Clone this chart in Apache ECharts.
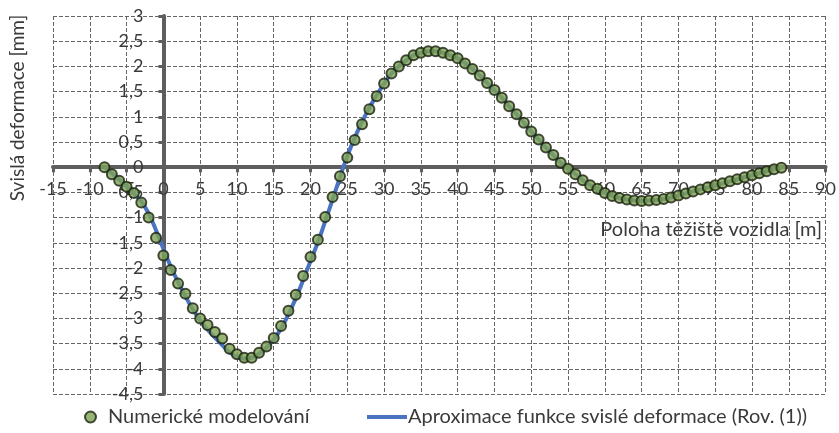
<!DOCTYPE html>
<html>
<head>
<meta charset="utf-8">
<script src="https://cdn.jsdelivr.net/npm/echarts@6/dist/echarts.min.js"></script>
<style>
  html, body { margin: 0; padding: 0; background: #ffffff; }
  #chart { width: 839px; height: 433px; }
</style>
</head>
<body>
<div id="chart"></div>
<script>
// Position of the vehicle's centre of gravity [m]
const positions = [-8, -7, -6, -5, -4, -3, -2, -1,
  0, 1, 2, 3, 4, 5, 6, 7, 8, 9,
  10, 11, 12, 13, 14, 15, 16, 17, 18, 19,
  20, 21, 22, 23, 24, 25, 26, 27, 28, 29,
  30, 31, 32, 33, 34, 35, 36, 37, 38, 39,
  40, 41, 42, 43, 44, 45, 46, 47, 48, 49,
  50, 51, 52, 53, 54, 55, 56, 57, 58, 59,
  60, 61, 62, 63, 64, 65, 66, 67, 68, 69,
  70, 71, 72, 73, 74, 75, 76, 77, 78, 79,
  80, 81, 82, 83, 84];

// Vertical deflection from the numerical model [mm]
const numericalValues = [0.00, -0.14, -0.27, -0.39, -0.51, -0.70, -1.00, -1.40,
  -1.75, -2.04, -2.31, -2.51, -2.80, -3.00, -3.13, -3.27, -3.40, -3.60,
  -3.71, -3.78, -3.78, -3.68, -3.56, -3.39, -3.15, -2.85, -2.53, -2.16,
  -1.78, -1.44, -0.99, -0.59, -0.18, 0.19, 0.54, 0.85, 1.15, 1.41,
  1.66, 1.86, 2.00, 2.12, 2.22, 2.27, 2.30, 2.30, 2.27, 2.22,
  2.16, 2.06, 1.95, 1.82, 1.67, 1.53, 1.38, 1.21, 1.05, 0.88,
  0.71, 0.55, 0.39, 0.24, 0.09, -0.03, -0.14, -0.26, -0.36, -0.43,
  -0.51, -0.57, -0.61, -0.64, -0.66, -0.67, -0.66, -0.65, -0.63, -0.60,
  -0.56, -0.52, -0.48, -0.44, -0.40, -0.36, -0.32, -0.28, -0.24, -0.20,
  -0.16, -0.12, -0.08, -0.04, -0.01];

// Approximating deflection function, Eq. (1) [mm]
const approxValues = [0.00, -0.12, -0.25, -0.38, -0.52, -0.68, -0.92, -1.25,
  -1.62, -1.97, -2.28, -2.56, -2.82, -3.04, -3.22, -3.38, -3.53, -3.67,
  -3.76, -3.80, -3.78, -3.70, -3.58, -3.42, -3.20, -2.92, -2.60, -2.24,
  -1.86, -1.49, -1.07, -0.64, -0.20, 0.22, 0.58, 0.90, 1.18, 1.43,
  1.66, 1.86, 2.00, 2.12, 2.22, 2.27, 2.30, 2.30, 2.27, 2.22,
  2.16, 2.06, 1.95, 1.82, 1.67, 1.53, 1.38, 1.21, 1.05, 0.88,
  0.71, 0.55, 0.39, 0.24, 0.09, -0.03, -0.14, -0.26, -0.36, -0.43,
  -0.51, -0.57, -0.61, -0.64, -0.66, -0.67, -0.66, -0.65, -0.63, -0.60,
  -0.56, -0.52, -0.48, -0.44, -0.40, -0.36, -0.32, -0.28, -0.24, -0.20,
  -0.16, -0.12, -0.08, -0.04, -0.01];

const seriesNames = ['Numerické modelování', 'Aproximace funkce svislé deformace (Rov. (1))'];
const xAxisTitle = 'Poloha těžiště vozidla [m]';
const yAxisTitle = 'Svislá deformace [mm]';

const FONT = 'Lato, "Noto Sans", sans-serif';
const TEXT = '#3a3a3a';
const BLUE = '#4a74c2';

// Plot frame (pixels) and axis ranges
const GRID = { left: 53, right: 13, top: 16, bottom: 39 };
const CHART_W = 839, CHART_H = 433;
const X_MIN = -15, X_MAX = 90, Y_MIN = -4.5, Y_MAX = 3;

// The axes cross at the origin: shift each axis from the frame edge to zero
const plotW = CHART_W - GRID.left - GRID.right;
const plotH = CHART_H - GRID.top - GRID.bottom;
const xAxisShift = -plotH * (0 - Y_MIN) / (Y_MAX - Y_MIN);
const yAxisShift = -plotW * (0 - X_MIN) / (X_MAX - X_MIN);

const numericalPoints = positions.map((x, i) => [x, numericalValues[i]]);
const approxPoints = positions.map((x, i) => [x, approxValues[i]]);

const commaFmt = v => String(v).replace('.', ',');

const gridLine = { show: true, lineStyle: { color: '#666666', width: 1, type: [4, 2] } };
const axisLineStyle = { onZero: false, lineStyle: { color: '#5e5e5e', width: 4 } };
const tickStyle = { show: true, length: 5, lineStyle: { color: '#5e5e5e', width: 3 } };

const chart = echarts.init(document.getElementById('chart'));
chart.setOption({
  animation: false,
  backgroundColor: '#ffffff',
  grid: Object.assign({ containLabel: false }, GRID),
  xAxis: {
    type: 'value',
    position: 'bottom',
    offset: xAxisShift,
    min: X_MIN, max: X_MAX, interval: 5,
    axisLine: axisLineStyle,
    axisTick: tickStyle,
    axisLabel: { margin: 13, fontFamily: FONT, fontSize: 18, color: TEXT, formatter: commaFmt },
    splitLine: gridLine
  },
  yAxis: {
    type: 'value',
    position: 'left',
    offset: yAxisShift,
    min: Y_MIN, max: Y_MAX, interval: 0.5,
    axisLine: axisLineStyle,
    axisTick: tickStyle,
    axisLabel: { margin: 20, fontFamily: FONT, fontSize: 18, color: TEXT, formatter: commaFmt },
    splitLine: gridLine
  },
  legend: [
    {
      data: [{ name: seriesNames[0], icon: 'circle' }],
      left: 79, top: 402,
      itemWidth: 11, itemHeight: 11,
      textStyle: { fontFamily: FONT, fontSize: 20, color: TEXT, padding: [0, 0, 0, 7] }
    },
    {
      data: [{ name: seriesNames[1], icon: 'rect', itemStyle: { color: BLUE } }],
      left: 362, top: 402,
      itemWidth: 40, itemHeight: 4,
      textStyle: { fontFamily: FONT, fontSize: 20, color: TEXT, padding: [0, 0, 0, -4] }
    }
  ],
  graphic: [
    {
      type: 'text',
      x: 822, y: 230,
      style: { text: xAxisTitle, fontFamily: FONT, fontSize: 20, fill: TEXT, textAlign: 'right', textVerticalAlign: 'middle' }
    },
    {
      type: 'text',
      x: 18, y: 108, rotation: Math.PI / 2,
      style: { text: yAxisTitle, fontFamily: FONT, fontSize: 19, fill: TEXT, textAlign: 'center', textVerticalAlign: 'middle' }
    }
  ],
  series: [
    {
      name: seriesNames[1],
      type: 'line',
      data: approxPoints,
      smooth: true,
      symbol: 'none',
      lineStyle: { color: BLUE, width: 4 },
      itemStyle: { color: BLUE },
      z: 2
    },
    {
      name: seriesNames[0],
      type: 'scatter',
      data: numericalPoints,
      symbol: 'circle',
      symbolSize: 10,
      itemStyle: { color: '#7ea354', borderColor: '#1a220f', borderWidth: 2 },
      z: 3
    }
  ]
});
</script>
</body>
</html>
